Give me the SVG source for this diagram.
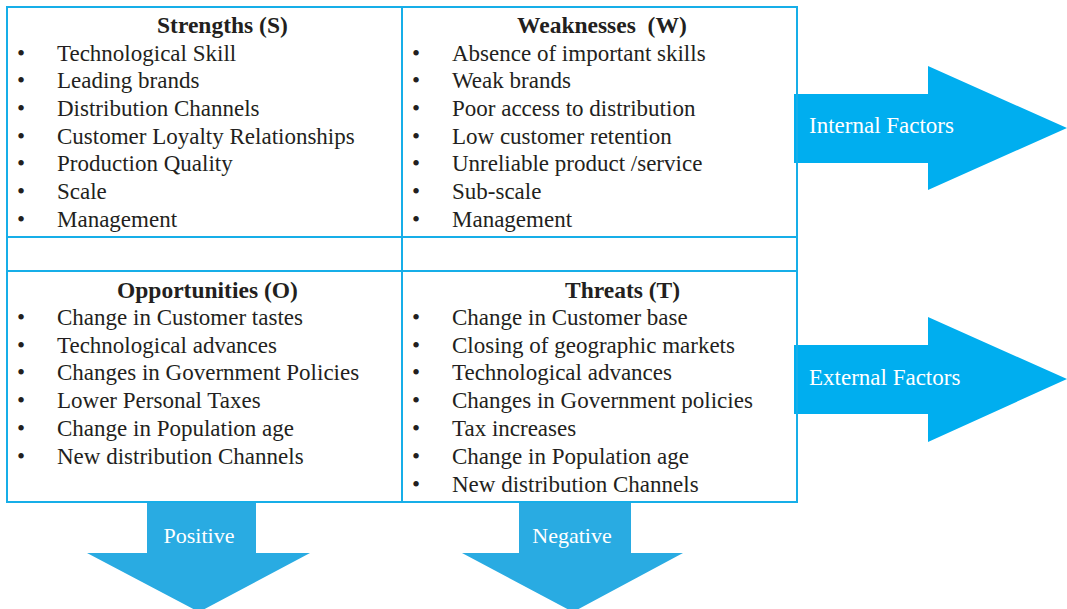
<svg xmlns="http://www.w3.org/2000/svg" width="1067" height="609" viewBox="0 0 1067 609">
<style>
.grid{fill:none;stroke:#17aee8;stroke-width:2}
.t{font-family:"Liberation Serif",serif;font-size:23px;fill:#231f20}
.h{font-family:"Liberation Serif",serif;font-size:23.5px;font-weight:bold;fill:#231f20}
.w{font-family:"Liberation Serif",serif;font-size:23px;fill:#ffffff}
.wd{font-family:"Liberation Serif",serif;font-size:22px;fill:#ffffff}
.ra{fill:#00aeef}
.da{fill:#29abe2}
</style>
<rect width="1067" height="609" fill="#ffffff"/>
<g id="connectors">
<polygon id="internal-arrow" class="ra" points="794,94 928,94 928,66 1067,128 928,190 928,163 794,163"/>
<polygon id="external-arrow" class="ra" points="794,345 928,345 928,317 1067,379 928,442 928,414 794,414"/>
<polygon id="positive-arrow" class="da" points="147,502 256,502 256,553 310,553 199,612 87,553 147,553"/>
<polygon id="negative-arrow" class="da" points="519,502 631,502 631,553 683,553 573,612 462,553 519,553"/>
</g>
<g id="table">
<rect class="grid" x="7" y="7" width="790" height="495"/>
<line class="grid" x1="402" y1="7" x2="402" y2="502"/>
<line class="grid" x1="7" y1="237" x2="797" y2="237"/>
<line class="grid" x1="7" y1="271" x2="797" y2="271"/>
</g>
<g id="strengths">
<text class="h" x="157" y="33">Strengths (S)</text>
<g class="t">
<text x="17" y="61">•</text><text x="57" y="61">Technological Skill</text>
<text x="17" y="88">•</text><text x="57" y="88">Leading brands</text>
<text x="17" y="116">•</text><text x="57" y="116">Distribution Channels</text>
<text x="17" y="144">•</text><text x="57" y="144">Customer Loyalty Relationships</text>
<text x="17" y="171">•</text><text x="57" y="171">Production Quality</text>
<text x="17" y="199">•</text><text x="57" y="199">Scale</text>
<text x="17" y="227">•</text><text x="57" y="227">Management</text>
</g>
</g>
<g id="weaknesses">
<text class="h" x="517" y="33" xml:space="preserve">Weaknesses  (W)</text>
<g class="t">
<text x="412" y="61">•</text><text x="452" y="61">Absence of important skills</text>
<text x="412" y="88">•</text><text x="452" y="88">Weak brands</text>
<text x="412" y="116">•</text><text x="452" y="116">Poor access to distribution</text>
<text x="412" y="144">•</text><text x="452" y="144">Low customer retention</text>
<text x="412" y="171">•</text><text x="452" y="171">Unreliable product /service</text>
<text x="412" y="199">•</text><text x="452" y="199">Sub-scale</text>
<text x="412" y="227">•</text><text x="452" y="227">Management</text>
</g>
</g>
<g id="opportunities">
<text class="h" x="117" y="298">Opportunities (O)</text>
<g class="t">
<text x="17" y="325">•</text><text x="57" y="325">Change in Customer tastes</text>
<text x="17" y="353">•</text><text x="57" y="353">Technological advances</text>
<text x="17" y="380">•</text><text x="57" y="380">Changes in Government Policies</text>
<text x="17" y="408">•</text><text x="57" y="408">Lower Personal Taxes</text>
<text x="17" y="436">•</text><text x="57" y="436">Change in Population age</text>
<text x="17" y="464">•</text><text x="57" y="464">New distribution Channels</text>
</g>
</g>
<g id="threats">
<text class="h" x="565" y="298">Threats (T)</text>
<g class="t">
<text x="412" y="325">•</text><text x="452" y="325">Change in Customer base</text>
<text x="412" y="353">•</text><text x="452" y="353">Closing of geographic markets</text>
<text x="412" y="380">•</text><text x="452" y="380">Technological advances</text>
<text x="412" y="408">•</text><text x="452" y="408">Changes in Government policies</text>
<text x="412" y="436">•</text><text x="452" y="436">Tax increases</text>
<text x="412" y="464">•</text><text x="452" y="464">Change in Population age</text>
<text x="412" y="492">•</text><text x="452" y="492">New distribution Channels</text>
</g>
</g>
<g id="labels">
<text class="w" x="809" y="133">Internal Factors</text>
<text class="w" x="809" y="385">External Factors</text>
<text class="wd" x="199" y="543" text-anchor="middle">Positive</text>
<text class="wd" x="572" y="543" text-anchor="middle">Negative</text>
</g>
</svg>
